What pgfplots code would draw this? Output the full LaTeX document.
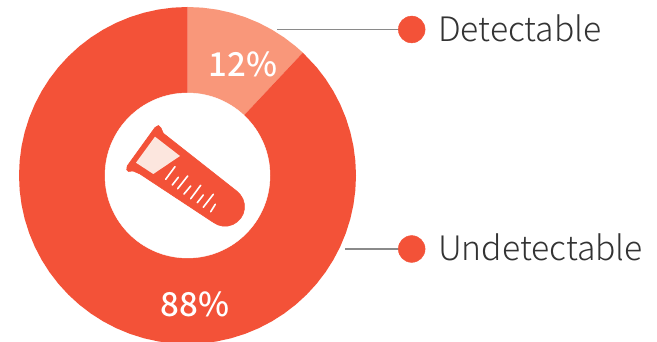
\documentclass[border=0pt]{standalone}
\usepackage{pgfplots}
\usepackage{pgfplotstable}
\pgfplotsset{compat=1.18}
\usepackage{fontspec}
\setmainfont{Noto Sans CJK SC Medium}
\newfontfamily\lightfont{Noto Sans CJK SC Light}
\definecolor{strong}{HTML}{F35238}
\definecolor{soft}{HTML}{F9977A}
\definecolor{liquid}{HTML}{FCE6DE}
\definecolor{leader}{HTML}{8A8A8A}
\definecolor{ink}{HTML}{333333}
% Outlines of the icon, in page units (x right, y down from the top left)
\pgfplotstableread{
px py
126.7 170.0
127.2 166.0
155.0 127.5
158.5 125.5
161.0 128.0
163.3 133.3
236.6 191.0
240.2 194.6
242.9 198.9
244.3 203.8
244.4 208.9
243.2 213.8
240.7 218.3
237.1 221.9
232.8 224.6
227.9 226.0
222.8 226.1
217.9 224.9
213.4 222.4
140.0 174.0
133.0 171.0
128.0 171.5
}\tubebody
\pgfplotstableread{
px py
155.0 136.7
180.0 156.0
153.3 174.0
136.0 162.7
}\tubeliquid
\begin{document}
\begin{tikzpicture}
\begin{axis}[
  hide axis, scale only axis, width=657pt, height=342pt,
  xmin=-187.5, xmax=469.5, ymin=-166.5, ymax=175.5,
  clip=true, clip mode=individual,
  every axis plot/.append style={no markers},
]
\coordinate (pagesw) at (rel axis cs:0,0);
\coordinate (pagene) at (rel axis cs:1,1);
% Share of samples: 12 per cent spans 43.2 degrees clockwise from the top
\addplot[data cs=polar, draw=none, fill=soft] coordinates {
 (0,0) (90,168.5) (85,168.5) (80,168.5) (75,168.5) (70,168.5) (65,168.5) (60,168.5) (55,168.5) (50,168.5) (46.8,168.5) (0,0)};
\addplot[data cs=polar, draw=none, fill=strong] coordinates {
 (0,0) (46.8,168.5) (40,168.5) (35,168.5) (30,168.5) (25,168.5) (20,168.5) (15,168.5) (10,168.5) (5,168.5) (0,168.5)
 (-5,168.5) (-10,168.5) (-15,168.5) (-20,168.5) (-25,168.5) (-30,168.5) (-35,168.5) (-40,168.5) (-45,168.5) (-50,168.5)
 (-55,168.5) (-60,168.5) (-65,168.5) (-70,168.5) (-75,168.5) (-80,168.5) (-85,168.5) (-90,168.5) (-95,168.5) (-100,168.5)
 (-105,168.5) (-110,168.5) (-115,168.5) (-120,168.5) (-125,168.5) (-130,168.5) (-135,168.5) (-140,168.5) (-145,168.5) (-150,168.5)
 (-155,168.5) (-160,168.5) (-165,168.5) (-170,168.5) (-175,168.5) (-180,168.5) (-185,168.5) (-190,168.5) (-195,168.5) (-200,168.5)
 (-205,168.5) (-210,168.5) (-215,168.5) (-220,168.5) (-225,168.5) (-230,168.5) (-235,168.5) (-240,168.5) (-245,168.5) (-250,168.5)
 (-255,168.5) (-260,168.5) (-265,168.5) (-270,168.5) (0,0)};
% Hole of the ring
\addplot[only marks, mark=*, mark size=82.5pt, mark options={draw=white, fill=white}] coordinates {(0,0)};

% Test tube icon
\addplot[draw=strong, line width=0.6pt, line join=round, fill=strong] table[x expr=\thisrow{px}-187.5, y expr=175.5-\thisrow{py}] {\tubebody};
\addplot[draw=none, fill=liquid] table[x expr=\thisrow{px}-187.5, y expr=175.5-\thisrow{py}] {\tubeliquid};
% Graduation marks
\pgfplotsset{grad/.style={draw=white, line width=1.6pt, line cap=round}}
\addplot[grad] coordinates {(-12.5,8.8) (-21.8,-3.8)};
\addplot[grad] coordinates {(-9.2,-1.8) (-15.2,-9.5)};
\addplot[grad] coordinates {(0.2,-0.5) (-9.8,-13.2)};
\addplot[grad] coordinates {(3.2,-10.5) (-3.5,-18.5)};
\addplot[grad] coordinates {(13.2,-9.8) (3.2,-23.2)};
\addplot[grad] coordinates {(15.8,-19.5) (9.8,-27.2)};
\addplot[grad] coordinates {(25.8,-18.8) (15.8,-31.8)};
\addplot[grad] coordinates {(27.8,-28.8) (23.2,-36.2)};

% Leader lines and legend dots
\addplot[leader, line width=1.4pt] coordinates {(89.5,146) (224,146)};
\addplot[leader, line width=1.4pt] coordinates {(157.5,-73.5) (224,-73.5)};
\addplot[only marks, mark=*, mark size=13.4pt, mark options={draw=strong, fill=strong}] coordinates {(224.2,146) (224.2,-73.5)};

\node[anchor=base west, inner sep=0pt, text=ink, font=\lightfont\fontsize{33.7}{34}\selectfont] at (axis cs:250.5,133.8) {Detectable};
\node[anchor=base west, inner sep=0pt, text=ink, font=\lightfont\fontsize{33.7}{34}\selectfont] at (axis cs:250.5,-85.5) {Undetectable};
\node[anchor=center, inner sep=0pt, text=white, font=\fontsize{33}{33}\selectfont] at (axis cs:55.5,111.5) {12\%};
\node[anchor=center, inner sep=0pt, text=white, font=\fontsize{33}{33}\selectfont] at (axis cs:7.5,-128.5) {88\%};
\end{axis}
\pgfresetboundingbox
\path[use as bounding box] (pagesw) rectangle (pagene);
\end{tikzpicture}
\end{document}
